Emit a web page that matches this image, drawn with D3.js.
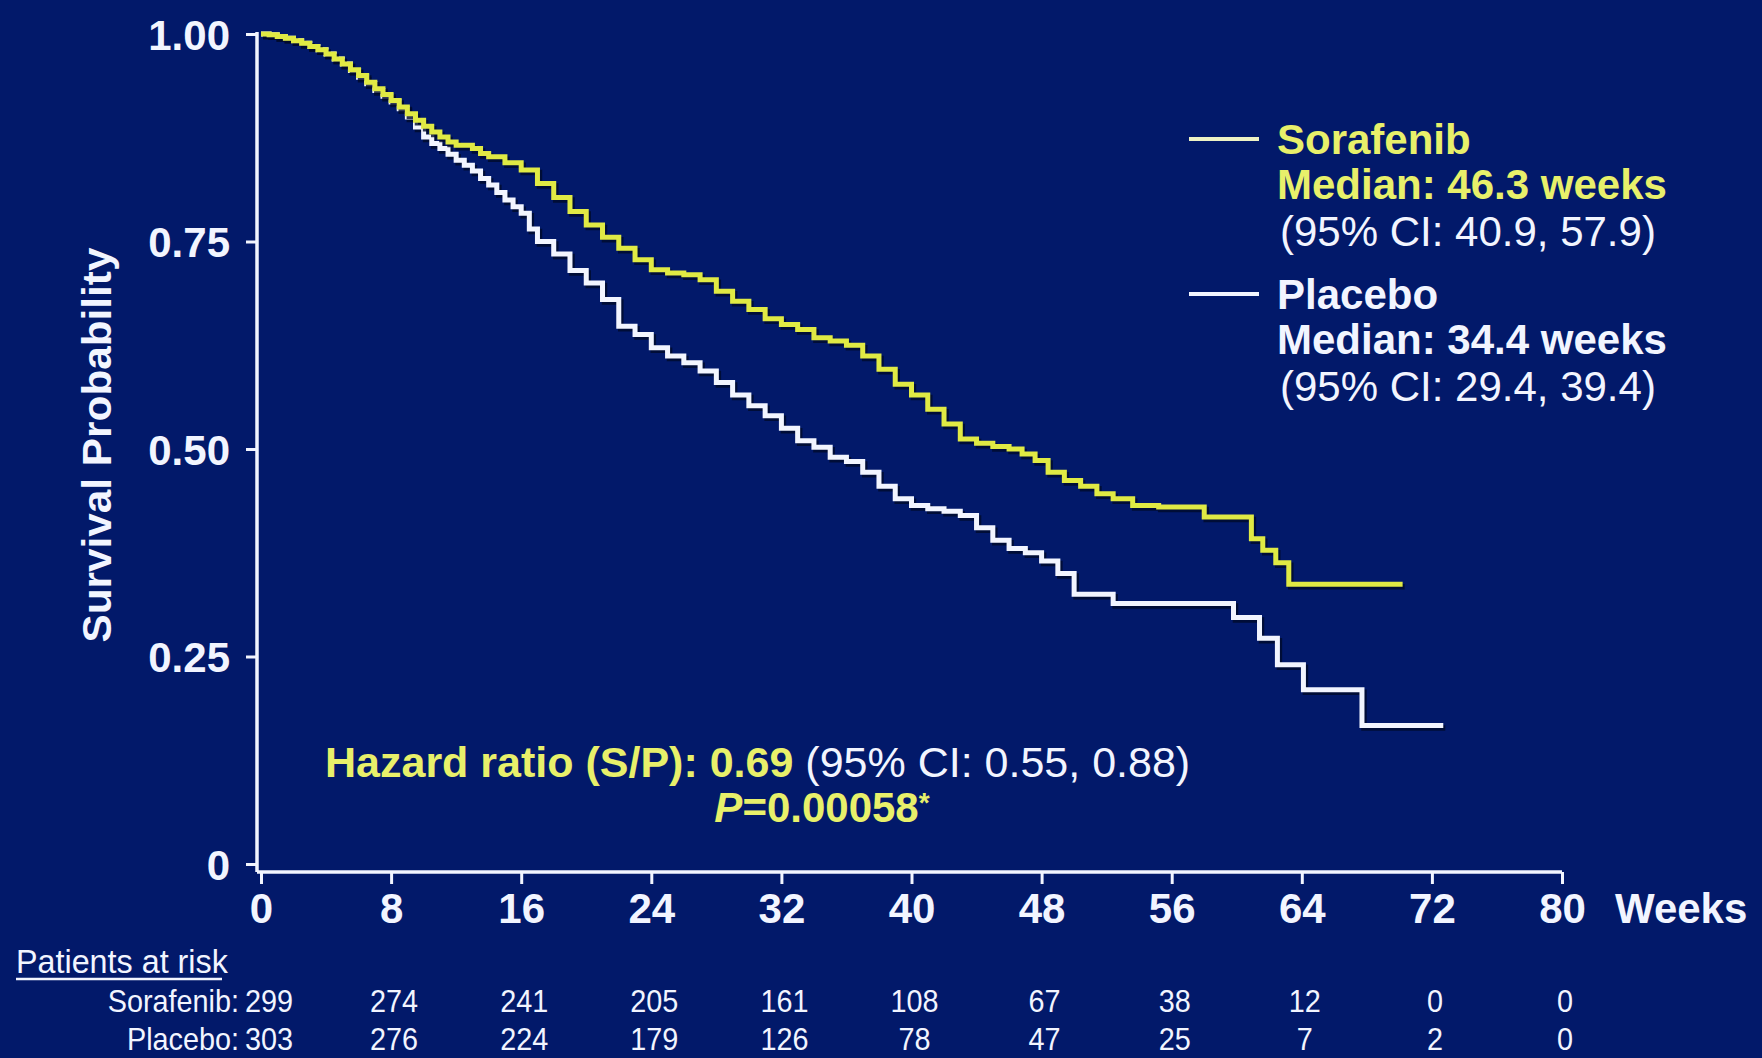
<!DOCTYPE html>
<html>
<head>
<meta charset="utf-8">
<script src="https://cdn.jsdelivr.net/npm/d3@7"></script>
<style>
  html, body { margin: 0; padding: 0; background: #02196a; }
  svg { display: block; }
  text { font-family: "Liberation Sans", Arial, sans-serif; }
</style>
</head>
<body>
<svg id="chart" width="1762" height="1058"></svg>
<script>
// Kaplan-Meier estimates: week at which each step starts, survival after it
const sorafenibWeeks = [0, 0.5, 1, 1.5, 2, 2.5, 3, 3.5, 4, 4.5, 5, 5.5, 6, 6.5, 7, 7.5, 8, 8.5, 9, 9.5, 10, 10.5, 11, 11.5, 12, 13, 13.5, 14, 15, 16, 17, 18, 19, 20, 21, 22, 23, 24, 25, 26, 27, 28, 29, 30, 31, 32, 33, 34, 35, 36, 37, 38, 39, 40, 41, 42, 43, 44, 45, 46, 46.8, 47.6, 48.4, 49.4, 50.4, 51.4, 52.4, 53.6, 55.2, 58, 60.9, 61.6, 62.4, 63.2, 70.2];
const sorafenibSurvival = [1.0, 0.999, 0.997, 0.995, 0.992, 0.989, 0.985, 0.981, 0.976, 0.97, 0.964, 0.957, 0.95, 0.942, 0.934, 0.927, 0.92, 0.912, 0.904, 0.896, 0.889, 0.882, 0.876, 0.87, 0.866, 0.862, 0.856, 0.852, 0.845, 0.836, 0.82, 0.803, 0.786, 0.77, 0.755, 0.742, 0.728, 0.716, 0.712, 0.71, 0.704, 0.69, 0.678, 0.668, 0.657, 0.65, 0.644, 0.634, 0.63, 0.625, 0.612, 0.596, 0.578, 0.565, 0.548, 0.53, 0.512, 0.507, 0.503, 0.5, 0.494, 0.486, 0.472, 0.462, 0.455, 0.446, 0.44, 0.432, 0.43, 0.418, 0.392, 0.378, 0.363, 0.337, 0.337];

const placeboWeeks = [0, 0.5, 1, 1.5, 2, 2.5, 3, 3.5, 4, 4.5, 5, 5.5, 6, 6.5, 7, 7.5, 8, 8.5, 9, 9.5, 10, 10.5, 11, 11.5, 12, 12.5, 13, 13.5, 14, 14.5, 15, 15.5, 16, 16.5, 17, 18, 19, 20, 21, 22, 23, 24, 25, 26, 27, 28, 29, 30, 31, 32, 33, 34, 35, 36, 37, 38, 39, 40, 41, 42, 43, 44, 45, 46, 47, 48, 49, 50, 52.4, 59.8, 61.4, 62.5, 64.1, 67.7, 72.7];
const placeboSurvival = [1.0, 0.999, 0.997, 0.995, 0.992, 0.989, 0.985, 0.981, 0.976, 0.97, 0.964, 0.956, 0.948, 0.94, 0.932, 0.925, 0.918, 0.91, 0.9, 0.888, 0.876, 0.868, 0.862, 0.855, 0.848, 0.842, 0.835, 0.826, 0.818, 0.809, 0.8, 0.792, 0.784, 0.765, 0.75, 0.735, 0.715, 0.7, 0.68, 0.648, 0.638, 0.622, 0.612, 0.604, 0.594, 0.58, 0.565, 0.552, 0.54, 0.525, 0.51, 0.502, 0.49, 0.485, 0.472, 0.455, 0.44, 0.432, 0.428, 0.425, 0.42, 0.405, 0.39, 0.38, 0.375, 0.365, 0.35, 0.325, 0.314, 0.297, 0.272, 0.24, 0.21, 0.167, 0.167];

// Axis ticks
const weekTicks = [0, 8, 16, 24, 32, 40, 48, 56, 64, 72, 80];
const probabilityTicks = [0, 0.25, 0.5, 0.75, 1.0];
const probabilityLabels = ["0", "0.25", "0.50", "0.75", "1.00"];

// Number at risk, at each week tick
const sorafenibAtRisk = [299, 274, 241, 205, 161, 108, 67, 38, 12, 0, 0];
const placeboAtRisk = [303, 276, 224, 179, 126, 78, 47, 25, 7, 2, 0];

// Legend / annotation text
const groupNames = ["Sorafenib", "Placebo"];
const groupMedians = ["Median: 46.3 weeks", "Median: 34.4 weeks"];
const groupCIs = ["(95% CI: 40.9, 57.9)", "(95% CI: 29.4, 39.4)"];

const YELLOW_LINE = "#e0ea44";
const YELLOW_TEXT = "#e8f06a";
const WHITE = "#f2f5ff";
const SHADOW = "#000a2a";

const svg = d3.select("#chart");

const x = d3.scaleLinear().domain([0, 80]).range([261, 1562]);
const y = d3.scaleLinear().domain([0, 1]).range([864, 34]);

const axisX = x(0) - 4;       // vertical axis sits just left of week 0
const axisY = y(0) + 8;       // horizontal axis sits just under p = 0

// ---- axes ----
const yAxis = d3.axisLeft(y)
  .tickValues(probabilityTicks)
  .tickFormat((d, i) => probabilityLabels[i])
  .tickSize(11)
  .tickPadding(16);

const gy = svg.append("g").attr("transform", `translate(${axisX},0)`).call(yAxis);
gy.select(".domain").remove();
gy.selectAll(".tick line").attr("stroke", WHITE).attr("stroke-width", 3);
gy.selectAll(".tick text")
  .attr("fill", WHITE)
  .attr("font-size", 42)
  .attr("font-weight", "bold")
  .attr("dy", "0.36em");

const xAxis = d3.axisBottom(x)
  .tickValues(weekTicks)
  .tickFormat(d3.format("d"))
  .tickSize(12)
  .tickPadding(9);

const gx = svg.append("g").attr("transform", `translate(0,${axisY})`).call(xAxis);
gx.select(".domain").remove();
gx.selectAll(".tick line").attr("stroke", WHITE).attr("stroke-width", 3);
gx.selectAll(".tick text")
  .attr("fill", WHITE)
  .attr("font-size", 42)
  .attr("font-weight", "bold");

// axis lines
svg.append("line")
  .attr("x1", axisX).attr("x2", axisX)
  .attr("y1", y(1) - 2).attr("y2", axisY)
  .attr("stroke", WHITE).attr("stroke-width", 3.5);
svg.append("line")
  .attr("x1", axisX).attr("x2", x(80))
  .attr("y1", axisY).attr("y2", axisY)
  .attr("stroke", WHITE).attr("stroke-width", 3.5);

svg.append("text")
  .attr("x", x(80) + 53)
  .attr("y", axisY + 51)
  .attr("fill", WHITE)
  .attr("font-size", 42)
  .attr("font-weight", "bold")
  .text("Weeks");

svg.append("text")
  .attr("transform", `translate(${x(0) - 150},445) rotate(-90)`)
  .attr("text-anchor", "middle")
  .attr("fill", WHITE)
  .attr("font-size", 40)
  .attr("font-weight", "bold")
  .attr("textLength", 395)
  .attr("lengthAdjust", "spacingAndGlyphs")
  .text("Survival Probability");

// ---- survival curves ----
const step = d3.line()
  .x(d => x(d[0]))
  .y(d => y(d[1]))
  .curve(d3.curveStepAfter);

const sorafenibData = d3.zip(sorafenibWeeks, sorafenibSurvival);
const placeboData = d3.zip(placeboWeeks, placeboSurvival);

function drawCurve(data, color) {
  svg.append("path")
    .attr("d", step(data))
    .attr("transform", "translate(2,2.5)")
    .attr("fill", "none")
    .attr("stroke", SHADOW)
    .attr("stroke-width", 5.5)
    .attr("opacity", 0.8);
  svg.append("path")
    .attr("d", step(data))
    .attr("fill", "none")
    .attr("stroke", color)
    .attr("stroke-width", 5)
    .attr("stroke-linejoin", "miter");
}
drawCurve(placeboData, WHITE);
drawCurve(sorafenibData, YELLOW_LINE);

// ---- legend ----
const legendRows = [
  { top: 139, name: groupNames[0], median: groupMedians[0], ci: groupCIs[0], line: "#eef2c4", color: YELLOW_TEXT },
  { top: 294, name: groupNames[1], median: groupMedians[1], ci: groupCIs[1], line: WHITE, color: WHITE }
];
const legend = svg.append("g");
legendRows.forEach(r => {
  legend.append("line")
    .attr("x1", 1189).attr("x2", 1259)
    .attr("y1", r.top).attr("y2", r.top)
    .attr("stroke", r.line).attr("stroke-width", 4);
  legend.append("text")
    .attr("x", 1277).attr("y", r.top).attr("dy", "0.36em")
    .attr("fill", r.color).attr("font-size", 42).attr("font-weight", "bold")
    .text(r.name);
  legend.append("text")
    .attr("x", 1277).attr("y", r.top + 45).attr("dy", "0.36em")
    .attr("fill", r.color).attr("font-size", 42).attr("font-weight", "bold")
    .text(r.median);
  legend.append("text")
    .attr("x", 1280).attr("y", r.top + 92).attr("dy", "0.36em")
    .attr("fill", WHITE).attr("font-size", 42)
    .text(r.ci);
});

// ---- hazard ratio annotation ----
const hr = svg.append("text")
  .attr("x", 325).attr("y", 762).attr("dy", "0.36em")
  .attr("font-size", 43);
hr.append("tspan").attr("fill", YELLOW_TEXT).attr("font-weight", "bold").text("Hazard ratio (S/P): 0.69");
hr.append("tspan").attr("fill", WHITE).text(" (95% CI: 0.55, 0.88)");

const pv = svg.append("text")
  .attr("x", 822).attr("y", 807).attr("dy", "0.36em")
  .attr("text-anchor", "middle")
  .attr("font-size", 42).attr("font-weight", "bold").attr("fill", YELLOW_TEXT);
pv.append("tspan").attr("font-style", "italic").text("P");
pv.append("tspan").text("=0.00058");
pv.append("tspan").attr("font-size", 28).attr("dy", "-0.35em").text("*");

// ---- patients at risk table ----
const risk = svg.append("g");
const riskFont = 32;
const squeeze = 0.9;

risk.append("text")
  .attr("transform", `translate(16,961) scale(0.95,1)`)
  .attr("dy", "0.36em")
  .attr("fill", WHITE).attr("font-size", 34)
  .text("Patients at risk");
risk.append("line")
  .attr("x1", 16).attr("x2", 222)
  .attr("y1", 979).attr("y2", 979)
  .attr("stroke", WHITE).attr("stroke-width", 2.5);

const riskRows = [
  { label: groupNames[0] + ":", values: sorafenibAtRisk, cy: 1000 },
  { label: groupNames[1] + ":", values: placeboAtRisk, cy: 1038 }
];
riskRows.forEach(row => {
  risk.append("text")
    .attr("transform", `translate(${x(0) - 22},${row.cy}) scale(${squeeze},1)`)
    .attr("dy", "0.36em")
    .attr("text-anchor", "end")
    .attr("fill", WHITE).attr("font-size", riskFont)
    .text(row.label);
  risk.selectAll(null)
    .data(row.values)
    .enter()
    .append("text")
    .attr("transform", (d, i) => `translate(${x(weekTicks[i]) + (i === 0 ? 8 : 3)},${row.cy}) scale(${squeeze},1)`)
    .attr("dy", "0.36em")
    .attr("text-anchor", "middle")
    .attr("fill", WHITE).attr("font-size", riskFont)
    .text(d => d);
});
</script>
</body>
</html>
